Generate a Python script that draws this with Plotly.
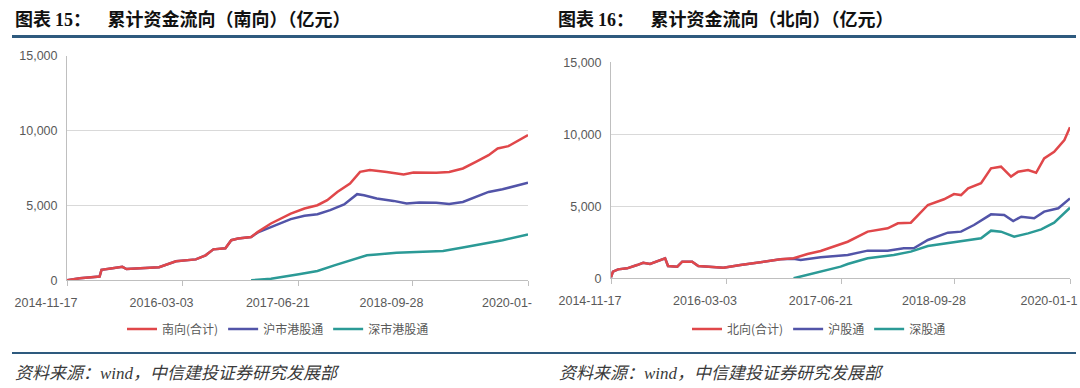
import plotly.graph_objects as go

# ---------------- data (亿元) ----------------
south_dates = ["2014-11-17", "2015-01-08", "2015-03-30", "2015-04-07", "2015-05-22", "2015-07-01",
               "2015-07-18", "2015-10-19", "2015-11-28", "2016-02-05", "2016-04-26", "2016-06-05",
               "2016-07-07", "2016-08-25", "2016-09-18", "2016-10-16", "2016-12-08", "2017-01-05",
               "2017-02-27", "2017-05-19", "2017-07-14", "2017-09-05", "2017-10-15", "2017-11-25",
               "2018-01-16", "2018-02-26", "2018-04-07", "2018-06-15", "2018-08-23", "2018-10-02",
               "2019-01-03", "2019-02-25", "2019-04-22", "2019-06-14", "2019-08-05", "2019-09-11",
               "2019-10-25", "2020-01-13"]
south_total = [0, 130, 250, 700, 800, 900, 750, 800, 870, 1270, 1400, 1670, 2070, 2140, 2680, 2790,
               2900, 3240, 3800, 4460, 4800, 5020, 5360, 5910, 6470, 7250, 7370, 7250, 7080, 7210,
               7190, 7250, 7480, 7920, 8370, 8820, 8970, 9710]

sh_hk_dates = ["2014-11-17", "2015-01-08", "2015-03-30", "2015-04-07", "2015-05-22", "2015-07-01",
               "2015-07-18", "2015-10-19", "2015-11-28", "2016-02-05", "2016-04-26", "2016-06-05",
               "2016-07-07", "2016-08-25", "2016-09-18", "2016-10-16", "2016-12-08", "2017-01-05",
               "2017-02-27", "2017-05-19", "2017-07-14", "2017-09-05", "2017-10-27", "2017-12-23",
               "2018-02-14", "2018-03-14", "2018-05-05", "2018-07-13", "2018-09-04", "2018-10-26",
               "2019-01-03", "2019-02-25", "2019-04-22", "2019-06-14", "2019-08-05", "2019-10-01",
               "2020-01-13"]
sh_hk = [0, 130, 250, 700, 800, 900, 750, 800, 870, 1270, 1400, 1670, 2070, 2140, 2680, 2790,
         2900, 3200, 3570, 4090, 4310, 4420, 4690, 5070, 5760, 5690, 5470, 5310, 5130, 5200,
         5180, 5110, 5240, 5580, 5910, 6090, 6520]

sz_hk_dates = ["2016-12-08", "2017-02-27", "2017-06-21", "2017-09-05", "2017-11-13", "2018-01-16",
               "2018-03-26", "2018-05-05", "2018-07-25", "2018-10-14", "2019-01-31", "2019-04-22",
               "2019-07-12", "2019-10-01", "2020-01-13"]
sz_hk = [0, 110, 400, 620, 1000, 1340, 1670, 1720, 1850, 1900, 1960, 2190, 2410, 2680, 3060]

north_dates = ["2014-11-17", "2014-11-25", "2014-12-16", "2015-01-22", "2015-03-04", "2015-03-29",
               "2015-04-26", "2015-05-29", "2015-06-27", "2015-07-09", "2015-08-16", "2015-09-05",
               "2015-10-16", "2015-11-10", "2016-01-11", "2016-02-21", "2016-05-01", "2016-07-10",
               "2016-09-13", "2016-10-12", "2016-12-05", "2017-01-31", "2017-03-26", "2017-05-18",
               "2017-07-15", "2017-10-05", "2017-12-26", "2018-02-06", "2018-03-31", "2018-06-09",
               "2018-08-14", "2018-09-24", "2018-10-23", "2018-11-21", "2019-01-13", "2019-02-23",
               "2019-04-05", "2019-05-16", "2019-06-14", "2019-07-25", "2019-08-27", "2019-09-29",
               "2019-11-09", "2019-12-21", "2020-01-13"]
north_total = [70, 460, 620, 690, 920, 1080, 990, 1220, 1390, 850, 810, 1150, 1150, 850, 810, 740,
               920, 1080, 1270, 1320, 1390, 1690, 1900, 2190, 2540, 3240, 3470, 3820, 3860, 5090,
               5490, 5850, 5780, 6250, 6600, 7640, 7750, 7060, 7400, 7520, 7330, 8330, 8790, 9600,
               10490]

hgt_dates = ["2014-11-17", "2014-11-25", "2014-12-16", "2015-01-22", "2015-03-04", "2015-03-29",
             "2015-04-26", "2015-05-29", "2015-06-27", "2015-07-09", "2015-08-16", "2015-09-05",
             "2015-10-16", "2015-11-10", "2016-01-11", "2016-02-21", "2016-05-01", "2016-07-10",
             "2016-09-13", "2016-10-12", "2016-12-05", "2017-01-03", "2017-03-26", "2017-07-15",
             "2017-10-05", "2017-12-26", "2018-03-02", "2018-04-12", "2018-06-09", "2018-08-30",
             "2018-10-23", "2018-12-15", "2019-02-23", "2019-04-18", "2019-05-25", "2019-06-27",
             "2019-08-19", "2019-09-29", "2019-11-26", "2020-01-13"]
hgt = [70, 460, 620, 690, 920, 1080, 990, 1220, 1390, 850, 810, 1150, 1150, 850, 810, 740,
       920, 1080, 1270, 1320, 1350, 1270, 1460, 1620, 1920, 1920, 2080, 2080, 2660, 3170,
       3240, 3700, 4440, 4400, 3980, 4280, 4170, 4630, 4860, 5550]

sgt_dates = ["2016-12-05", "2017-02-25", "2017-06-16", "2017-07-15", "2017-10-05", "2018-01-20",
             "2018-03-31", "2018-06-09", "2018-08-30", "2018-11-21", "2019-01-13", "2019-02-23",
             "2019-04-05", "2019-05-29", "2019-07-25", "2019-09-17", "2019-11-09", "2020-01-13"]
sgt = [0, 350, 810, 990, 1390, 1620, 1850, 2240, 2430, 2660, 2780, 3310, 3240, 2890, 3120, 3400,
       3860, 4900]

tick_dates = ["2014-11-17", "2016-03-03", "2017-06-21", "2018-09-28", "2020-01-13"]
tick_text_left = ["2014-11-17", "2016-03-03", "2017-06-21", "2018-09-28", "2020-01-"]
tick_text_right = ["2014-11-17", "2016-03-03", "2017-06-21", "2018-09-28", "2020-01-1"]
y_ticks = [0, 5000, 10000, 15000]
y_text = ["0", "5,000", "10,000", "15,000"]

RED = "#E0474A"
BLUE = "#5254A8"
TEAL = "#2B9A96"

W, H = 1080, 388
def px(x):
    return x / W
def py(y):
    return (H - y) / H

fig = go.Figure()

def add(x, y, name, color, xa, ya, legend, rank):
    fig.add_trace(go.Scatter(x=x, y=y, name=name, mode="lines",
                             line=dict(color=color, width=2.5),
                             xaxis=xa, yaxis=ya, legend=legend, legendrank=rank))

# left (南向) - red drawn last so it sits on top
add(sh_hk_dates, sh_hk, "沪市港股通", BLUE, "x", "y", "legend", 2)
add(sz_hk_dates, sz_hk, "深市港股通", TEAL, "x", "y", "legend", 3)
add(south_dates, south_total, "南向(合计)", RED, "x", "y", "legend", 1)
# right (北向)
add(hgt_dates, hgt, "沪股通", BLUE, "x2", "y2", "legend2", 2)
add(sgt_dates, sgt, "深股通", TEAL, "x2", "y2", "legend2", 3)
add(north_dates, north_total, "北向(合计)", RED, "x2", "y2", "legend2", 1)

TICKFONT = dict(family="Liberation Sans, Arial", size=12.5, color="#595959")
xcommon = dict(type="date", range=["2014-11-17", "2020-01-13"], tickvals=tick_dates,
               showgrid=False, showline=True, linecolor="#BFBFBF", linewidth=1,
               ticks="outside", ticklen=5, tickcolor="#BFBFBF", tickfont=TICKFONT,
               ticklabelshift=-21, ticklabelstandoff=6, zeroline=False, fixedrange=True,
               automargin=False)
ycommon = dict(range=[0, 15000], tickvals=y_ticks, ticktext=y_text, showgrid=True,
               gridcolor="#D9D9D9", gridwidth=1, showline=True, linecolor="#BFBFBF",
               linewidth=1, ticks="", tickfont=TICKFONT, zeroline=False, ticklabelstandoff=6,
               fixedrange=True, automargin=False)

LEGFONT = dict(family="Noto Sans CJK SC", size=12, color="#595959")
fig.update_layout(
    width=W, height=H,
    margin=dict(l=0, r=0, t=0, b=0, autoexpand=False),
    paper_bgcolor="white", plot_bgcolor="white",
    xaxis=dict(domain=[px(67), px(528)], anchor="y", ticktext=tick_text_left, **xcommon),
    yaxis=dict(domain=[py(280.3), py(56)], anchor="x", **ycommon),
    xaxis2=dict(domain=[px(611), px(1070)], anchor="y2", ticktext=tick_text_right, **xcommon),
    yaxis2=dict(domain=[py(278.3), py(62.3)], anchor="x2", **ycommon),
    legend=dict(orientation="h", x=px(278), xanchor="center", y=py(329), yanchor="middle",
                font=LEGFONT, itemwidth=30, bgcolor="rgba(0,0,0,0)", traceorder="normal"),
    legend2=dict(orientation="h", x=px(819), xanchor="center", y=py(329), yanchor="middle",
                 font=LEGFONT, itemwidth=30, bgcolor="rgba(0,0,0,0)", traceorder="normal"),
    showlegend=True,
)

LINE_COLOR = "#2E5A7E"
# title rules and bottom rules
fig.add_shape(type="line", xref="paper", yref="paper", x0=px(12), x1=px(1076), y0=py(36.5), y1=py(36.5),
              line=dict(color=LINE_COLOR, width=3))
fig.add_shape(type="line", xref="paper", yref="paper", x0=px(12), x1=px(1076), y0=py(353), y1=py(353),
              line=dict(color=LINE_COLOR, width=2))

TITLE_FONT = dict(family="Noto Sans CJK SC", size=18, color="#111111")
t1 = ("<b>图表 <span style='font-family:Liberation Serif'>15</span>：&nbsp;&nbsp;&nbsp;&nbsp;"
      "累计资金流向（南向）（亿元）</b>")
t2 = ("<b>图表 <span style='font-family:Liberation Serif'>16</span>：&nbsp;&nbsp;&nbsp;&nbsp;"
      "累计资金流向（北向）（亿元）</b>")
fig.add_annotation(text=t1, xref="paper", yref="paper", x=px(13), y=py(18), xanchor="left",
                   yanchor="middle", showarrow=False, font=TITLE_FONT)
fig.add_annotation(text=t2, xref="paper", yref="paper", x=px(556), y=py(18), xanchor="left",
                   yanchor="middle", showarrow=False, font=TITLE_FONT)

SRC_FONT = dict(family="Noto Sans CJK SC", size=17, color="#3A3A3A")
src = "<i>资料来源：<span style='font-family:Liberation Serif'>wind</span>，中信建投证券研究发展部</i>"
fig.add_annotation(text=src, xref="paper", yref="paper", x=px(13), y=py(371), xanchor="left",
                   yanchor="middle", showarrow=False, font=SRC_FONT)
fig.add_annotation(text=src, xref="paper", yref="paper", x=px(557), y=py(371), xanchor="left",
                   yanchor="middle", showarrow=False, font=SRC_FONT)

fig.write_html("out.html", config={"displayModeBar": False},
               post_script="document.body.style.margin='0px';")
